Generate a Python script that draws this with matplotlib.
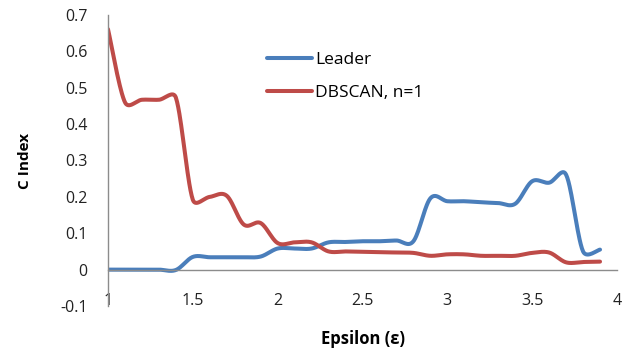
import numpy as np
import matplotlib
matplotlib.use("Agg")
import matplotlib.pyplot as plt

epsilon = [1.0, 1.1, 1.2, 1.3, 1.4, 1.5, 1.6, 1.7, 1.8, 1.9,
           2.0, 2.1, 2.2, 2.3, 2.4, 2.5, 2.6, 2.7, 2.8, 2.9,
           3.0, 3.1, 3.2, 3.3, 3.4, 3.5, 3.6, 3.7, 3.8, 3.9]
leader = [0.0, 0.0, 0.0, 0.0, -0.001, 0.035, 0.034, 0.034, 0.034, 0.036,
          0.058, 0.058, 0.058, 0.075, 0.076, 0.078, 0.078, 0.08, 0.078, 0.196,
          0.188, 0.188, 0.185, 0.183, 0.181, 0.243, 0.239, 0.261, 0.05, 0.055]
dbscan = [0.661, 0.46, 0.467, 0.467, 0.473, 0.192, 0.2, 0.203, 0.124, 0.128,
          0.073, 0.075, 0.075, 0.05, 0.05, 0.049, 0.048, 0.047, 0.046, 0.038,
          0.042, 0.042, 0.038, 0.038, 0.038, 0.046, 0.047, 0.02, 0.021, 0.022]
series_names = ["Leader", "DBSCAN, n=1"]
colors = ["#4A7EBB", "#BE4B48"]
xticks = [1, 1.5, 2, 2.5, 3, 3.5, 4]
yticks = [-0.1, 0, 0.1, 0.2, 0.3, 0.4, 0.5, 0.6, 0.7]

# pixel scale of the axes (for Excel-like smoothing in screen space)
SX, SY = 509 / 3.0, 291 / 0.8


def smooth(xs, ys, n=30):
    P = np.column_stack([np.asarray(xs, float) * SX, np.asarray(ys, float) * SY])
    out = []
    t = np.linspace(0, 1, n)[:, None]
    for i in range(len(P) - 1):
        p0 = P[i - 1] if i > 0 else P[i]
        p1 = P[i]
        p2 = P[i + 1]
        p3 = P[i + 2] if i + 2 < len(P) else P[i + 1]
        d12 = np.linalg.norm(p2 - p1)
        d02 = np.linalg.norm(p2 - p0)
        d13 = np.linalg.norm(p3 - p1)
        f1 = 1 / 6.0
        f2 = 1 / 6.0
        if d02 / 6.0 > d12 / 2.0 and d02 > 0:
            f1 = d12 / (2.0 * d02)
        if d13 / 6.0 > d12 / 2.0 and d13 > 0:
            f2 = d12 / (2.0 * d13)
        b1 = p1 + (p2 - p0) * f1
        b2 = p2 - (p3 - p1) * f2
        seg = ((1 - t) ** 3) * p1 + 3 * ((1 - t) ** 2) * t * b1 + 3 * (1 - t) * t ** 2 * b2 + t ** 3 * p2
        out.append(seg if i == 0 else seg[1:])
    arr = np.vstack(out)
    return arr[:, 0] / SX, arr[:, 1] / SY


plt.rcParams['font.family'] = ['Open Sans', 'DejaVu Sans']

fig = plt.figure(figsize=(6.29, 3.5), dpi=100)
ax = fig.add_axes([108 / 629, 1 - 306 / 350, 509 / 629, 291 / 350])

for ys, name, c in zip([leader, dbscan], series_names, colors):
    sx, sy = smooth(epsilon, ys)
    ax.plot(sx, sy, color=c, lw=2.9, label=name, solid_capstyle='round')

ax.set_xlim(1, 4)
ax.set_ylim(-0.1, 0.7)
ax.set_xticks(xticks)
ax.set_xticklabels([f"{v:g}" for v in xticks])
ax.set_yticks(yticks)
ax.set_yticklabels([f"{v:g}" for v in yticks])

for s in ['top', 'right']:
    ax.spines[s].set_visible(False)
ax.spines['bottom'].set_position(('data', 0))
ax.spines['bottom'].set_color('#8C8C8C')
ax.spines['left'].set_color('#8C8C8C')
ax.spines['bottom'].set_linewidth(1)
ax.spines['left'].set_linewidth(1)
ax.tick_params(axis='x', length=0, pad=16.5, labelsize=11.5, colors='#222222')
ax.tick_params(axis='y', length=0, pad=14.5, labelsize=11.5, colors='#222222')

ax.set_xlabel("Epsilon (ε)", fontsize=12, fontweight='bold')
ax.xaxis.set_label_coords(0.501, -0.082)
ax.set_ylabel("C Index", fontsize=11, fontweight='bold')
ax.yaxis.set_label_coords(-0.149, 0.5)

ax.legend(loc='upper left', bbox_to_anchor=(0.312, 0.872), frameon=False,
          fontsize=12.5, handlelength=2.6, handletextpad=0.2, labelspacing=0.95,
          borderpad=0, borderaxespad=0)

fig.savefig("out.png", dpi=100)
